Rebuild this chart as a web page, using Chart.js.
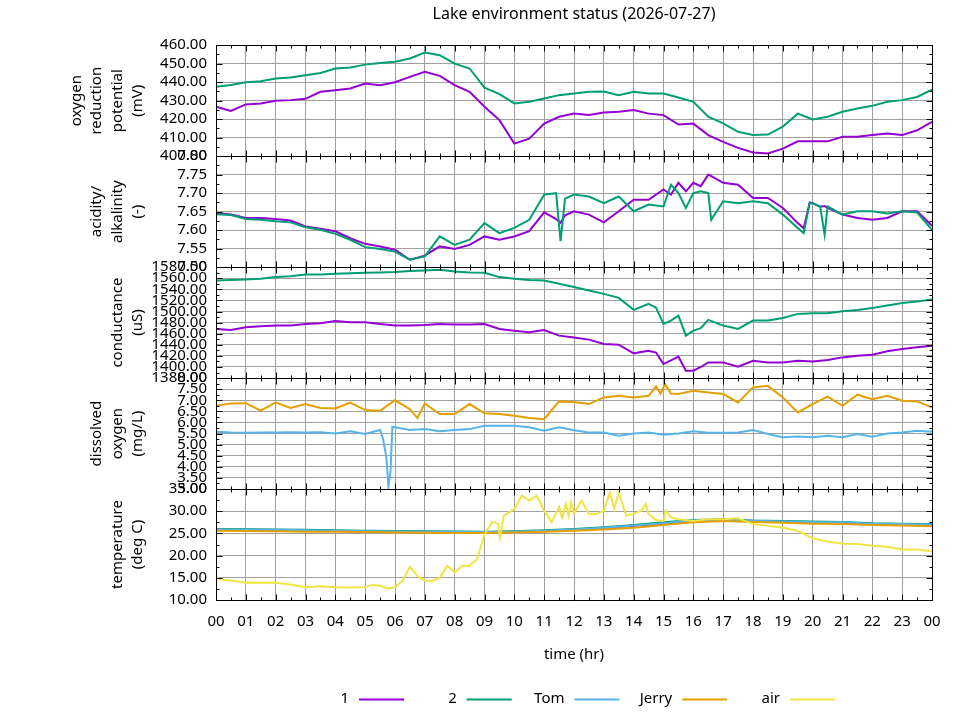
<!DOCTYPE html>
<html>
<head>
<meta charset="utf-8">
<title>Lake environment status</title>
<script src="https://cdn.jsdelivr.net/npm/chart.js@4.4.1/dist/chart.umd.min.js"></script>
<style>
    html, body { margin: 0; padding: 0; background: #ffffff; }
    #wrap { width: 960px; height: 720px; }
</style>
</head>
<body>
<div id="wrap"><canvas id="lake-chart" width="960" height="720"></canvas></div>
<script>
// Series names and colours (gnuplot default palette)
const seriesNames = ["1", "2", "Tom", "Jerry", "air"];
const seriesColors = ["#9400d3", "#009e73", "#56b4e9", "#e69f00", "#f0e442"];

// Panels, top to bottom
const panelIds = ["orp", "ph", "cond", "dox", "temp"];
const panelMin = [400, 7.5, 1380, 3, 10];
const panelMax = [460, 7.8, 1580, 8, 35];
const panelStep = [10, 0.05, 20, 0.5, 5];
const panelTitles = [
    ["oxygen", "reduction", "potential", "(mV)"],
    ["acidity/", "alkalinity", "(-)"],
    ["conductance", "(uS)"],
    ["dissolved", "oxygen", "(mg/L)"],
    ["temperature", "(deg C)"]
];

const hourLabels = ["00", "01", "02", "03", "04", "05", "06", "07", "08", "09", "10", "11",
    "12", "13", "14", "15", "16", "17", "18", "19", "20", "21", "22", "23", "00"];

const halfHours = [0, 0.5, 1, 1.5, 2, 2.5, 3, 3.5, 4, 4.5, 5, 5.5, 6, 6.5, 7, 7.5, 8, 8.5, 9, 9.5,
    10, 10.5, 11, 11.5, 12, 12.5, 13, 13.5, 14, 14.5, 15, 15.5, 16, 16.5, 17, 17.5, 18, 18.5, 19, 19.5,
    20, 20.5, 21, 21.5, 22, 22.5, 23, 23.5, 24];
const hours = [0, 1, 2, 3, 4, 5, 6, 7, 8, 9, 10, 11, 12, 13, 14, 15, 16, 17, 18, 19, 20, 21, 22, 23, 24];

// oxygen reduction potential (mV)
const orp1 = [426.7, 424.5, 428, 428.5, 430, 430.3, 431, 434.8, 435.7, 436.6,
    439.3, 438.4, 440, 442.9, 445.6, 443.4, 438.4, 434.8, 426.7, 419.5,
    406.8, 409.5, 417.6, 421.3, 423, 422.2, 423.6, 424, 425, 423,
    422.2, 417.1, 417.6, 411.4, 407.7, 404.5, 402, 401.4, 404.1, 408,
    408, 408, 410.5, 410.5, 411.4, 412.3, 411.4, 414, 418.6];
const orp2 = [437.5, 438.5, 440, 440.5, 442, 442.5, 443.8, 445, 447.4, 448,
    449.5, 450.4, 451, 452.8, 456, 454.6, 450, 447.4, 437, 433.5,
    428.5, 429.4, 431.2, 433, 433.9, 434.8, 435, 433, 434.8, 433.9,
    433.9, 431.7, 429.4, 421.3, 417.7, 413.2, 411.4, 411.7, 416, 423,
    419.8, 421.3, 424, 425.8, 427.2, 429.4, 430.3, 432, 436];

// acidity / alkalinity
const phTime = [0, 0.5, 1, 1.5, 2, 2.5, 3, 3.5, 4, 4.5,
    5, 5.5, 6, 6.5, 7, 7.5, 8, 8.5, 9, 9.5,
    10, 10.5, 11, 11.4, 11.55, 11.7, 12, 12.5, 13, 13.5,
    14, 14.5, 15, 15.25, 15.5, 15.75, 16, 16.25, 16.5, 16.6,
    17, 17.5, 18, 18.5, 19, 19.5, 19.7, 19.9, 20, 20.25,
    20.4, 20.5, 21, 21.5, 22, 22.5, 23, 23.5, 24];
const ph1 = [7.646, 7.642, 7.633, 7.633, 7.630, 7.626, 7.610, 7.604, 7.597, 7.578,
    7.563, 7.556, 7.547, 7.520, 7.531, 7.556, 7.549, 7.560, 7.583, 7.574,
    7.583, 7.597, 7.648, 7.630, 7.620, 7.640, 7.651, 7.642, 7.621, 7.651,
    7.682, 7.682, 7.710, 7.696, 7.728, 7.705, 7.728, 7.719, 7.750, 7.746,
    7.728, 7.723, 7.687, 7.687, 7.660, 7.619, 7.605, 7.675, 7.673, 7.663,
    7.665, 7.660, 7.642, 7.633, 7.628, 7.633, 7.651, 7.651, 7.612];
const ph2 = [7.643, 7.641, 7.630, 7.628, 7.624, 7.621, 7.608, 7.601, 7.590, 7.574,
    7.554, 7.549, 7.542, 7.520, 7.529, 7.583, 7.560, 7.574, 7.619, 7.592,
    7.606, 7.628, 7.696, 7.700, 7.570, 7.685, 7.696, 7.691, 7.673, 7.691,
    7.651, 7.669, 7.664, 7.723, 7.700, 7.660, 7.700, 7.705, 7.700, 7.628,
    7.678, 7.673, 7.678, 7.673, 7.642, 7.606, 7.592, 7.673, 7.673, 7.664,
    7.588, 7.664, 7.642, 7.651, 7.651, 7.645, 7.651, 7.648, 7.601];

// conductance (uS)
const condTime = [0, 0.5, 1, 1.5, 2, 2.5, 3, 3.5, 4, 4.5,
    5, 5.5, 6, 6.5, 7, 7.5, 8, 8.5, 9, 9.5,
    10, 10.5, 11, 11.5, 12, 12.5, 13, 13.5, 14, 14.5,
    14.75, 15, 15.25, 15.5, 15.75, 16, 16.25, 16.5, 17, 17.5,
    18, 18.5, 19, 19.5, 20, 20.5, 21, 21.5, 22, 22.5,
    23, 23.5, 24];
const cond1 = [1468.6, 1466.7, 1471.6, 1473.4, 1474.6, 1474.6, 1477.6, 1478.8, 1483, 1480.6,
    1480.6, 1477.6, 1474.6, 1474.6, 1475.8, 1477.6, 1476.4, 1476.4, 1477.6, 1468.6,
    1465.5, 1462.5, 1466.7, 1456.5, 1453, 1449.3, 1441.4, 1440.2, 1424.6, 1429.4,
    1426, 1405.3, 1412, 1418.6, 1393.3, 1393.3, 1400, 1408.3, 1408.3, 1400.5,
    1411.3, 1408.3, 1408.3, 1411.3, 1410.1, 1412.5, 1417.3, 1420.4, 1422.2, 1428.2,
    1432.4, 1435.4, 1438.4];
const cond2 = [1555.9, 1557, 1557.7, 1559, 1562, 1563.7, 1566.7, 1566.7, 1568, 1569,
    1569.8, 1570.4, 1571, 1572.8, 1574, 1575.2, 1572.2, 1570.4, 1569.8, 1562,
    1559, 1557, 1556, 1550, 1544, 1537.8, 1531.8, 1524.6, 1502.9, 1513.7,
    1507, 1477.6, 1483.6, 1492.7, 1456.5, 1465.5, 1470, 1484.8, 1474.6, 1468.6,
    1483.6, 1483.6, 1488.4, 1495.7, 1496.9, 1496.9, 1500.5, 1502.9, 1506.5, 1510.7,
    1515.5, 1518, 1521.6];

// dissolved oxygen (mg/L)
const tomTime = [0, 0.5, 1, 1.5, 2, 2.5, 3, 3.5, 4, 4.5,
    5, 5.5, 5.6, 5.71, 5.78, 5.85, 5.91, 6, 6.5, 7,
    7.5, 8, 8.5, 9, 9.5, 10, 10.5, 11, 11.5, 12,
    12.5, 13, 13.5, 14, 14.5, 15, 15.5, 16, 16.5, 17,
    17.5, 18, 18.5, 19, 19.5, 20, 20.5, 21, 21.5, 22,
    22.5, 23, 23.5, 24];
const doTom = [5.58, 5.55, 5.54, 5.55, 5.55, 5.56, 5.55, 5.56, 5.5, 5.6,
    5.48, 5.66, 5.25, 4.43, 3.1, 3.8, 5.8, 5.78, 5.66, 5.7,
    5.6, 5.66, 5.7, 5.85, 5.85, 5.85, 5.78, 5.63, 5.78, 5.65,
    5.55, 5.55, 5.4, 5.5, 5.55, 5.45, 5.5, 5.6, 5.54, 5.54,
    5.55, 5.66, 5.48, 5.33, 5.37, 5.33, 5.4, 5.33, 5.48, 5.36,
    5.5, 5.55, 5.63, 5.58];
const jerryTime = [0, 0.5, 1, 1.5, 2, 2.5, 3, 3.5, 4, 4.5,
    5, 5.5, 6, 6.5, 6.75, 7, 7.5, 8, 8.5, 9,
    9.5, 10, 10.5, 11, 11.5, 12, 12.5, 13, 13.5, 14,
    14.5, 14.75, 14.9, 15.05, 15.25, 15.5, 16, 16.5, 17, 17.5,
    18, 18.5, 19, 19.5, 20, 20.5, 21, 21.5, 22, 22.5,
    23, 23.5, 24];
const doJerry = [6.75, 6.86, 6.87, 6.53, 6.9, 6.65, 6.83, 6.65, 6.63, 6.9,
    6.56, 6.53, 7.0, 6.6, 6.2, 6.86, 6.38, 6.38, 6.83, 6.41,
    6.38, 6.3, 6.2, 6.15, 6.95, 6.92, 6.83, 7.13, 7.2, 7.13,
    7.2, 7.62, 7.3, 7.73, 7.3, 7.28, 7.43, 7.35, 7.28, 6.9,
    7.58, 7.65, 7.13, 6.45, 6.83, 7.16, 6.75, 7.25, 7.05, 7.2,
    6.98, 6.95, 6.68];

// temperature (deg C)
const temp1 = [25.85, 25.8, 25.75, 25.65, 25.55, 25.45, 25.4, 25.35, 25.3, 25.25, 25.35, 25.55, 25.85,
    26.25, 26.75, 27.2, 27.85, 28.05, 27.8, 27.65, 27.55, 27.45, 27.15, 27.05, 26.95];
const temp2 = [26.0, 25.95, 25.9, 25.8, 25.7, 25.6, 25.55, 25.5, 25.45, 25.4, 25.5, 25.7, 26.0,
    26.4, 26.9, 27.5, 28.0, 28.2, 27.9, 27.8, 27.7, 27.6, 27.3, 27.2, 27.1];
const tempTom = [25.9, 25.85, 25.8, 25.7, 25.6, 25.5, 25.45, 25.4, 25.35, 25.3, 25.4, 25.6, 25.9,
    26.3, 26.8, 27.3, 27.9, 28.1, 27.85, 27.7, 27.6, 27.5, 27.2, 27.1, 27.0];
const tempJerry = [25.6, 25.55, 25.5, 25.4, 25.35, 25.3, 25.2, 25.15, 25.1, 25.1, 25.2, 25.4, 25.6,
    25.9, 26.3, 26.9, 27.5, 27.8, 27.6, 27.4, 27.2, 27.1, 26.9, 26.8, 26.6];
const airTime = [0, 0.25, 0.5, 1, 1.5, 2, 2.5, 3, 3.5, 4,
    4.5, 5, 5.25, 5.5, 5.75, 6, 6.25, 6.5, 6.75, 7,
    7.25, 7.5, 7.75, 8, 8.25, 8.5, 8.75, 9, 9.25, 9.45,
    9.52, 9.65, 10, 10.25, 10.5, 10.75, 11, 11.25, 11.5, 11.6,
    11.73, 11.82, 11.9, 12, 12.25, 12.5, 12.75, 13, 13.2, 13.35,
    13.5, 13.75, 14, 14.25, 14.4, 14.5, 14.75, 15, 15.07, 15.25,
    15.5, 16, 16.5, 17, 17.5, 18, 18.5, 19, 19.5, 20,
    20.5, 21, 21.5, 22, 22.5, 23, 23.5, 24];
const airTemp = [15.05, 14.5, 14.4, 13.9, 13.9, 13.9, 13.5, 12.9, 13.1, 12.9,
    12.8, 12.9, 13.4, 13.2, 12.6, 12.9, 14.3, 17.5, 15.4, 14.4,
    14.3, 15.05, 17.7, 16.2, 17.7, 17.7, 19.2, 24.8, 27.6, 27.2,
    24.1, 29, 30.5, 33.5, 32.4, 33.5, 30.1, 27.5, 31, 28.5,
    31.6, 29, 32, 29.5, 32.4, 29.4, 29.4, 30.1, 34.2, 30.5,
    34.2, 29, 29.4, 30.1, 31.6, 29.4, 28, 27.8, 30.1, 28.6,
    28.2, 27.8, 28.2, 28.2, 28.4, 27.1, 26.7, 26.3, 25.6, 23.9,
    23.2, 22.7, 22.6, 22.2, 22, 21.4, 21.4, 20.9];

const FONT = '"Noto Sans", sans-serif';
const FONT_SIZE = 15;
const TITLE_LINE = 20.4;

Chart.defaults.font.family = FONT;
Chart.defaults.font.size = FONT_SIZE;
Chart.defaults.color = "#000000";

const toPoints = (xs, ys) => xs.map((x, i) => ({ x: x, y: ys[i] }));

// later datasets are drawn on top, like gnuplot does
let drawCount = 0;
function series(seriesIndex, axis, xs, ys) {
    drawCount += 1;
    return {
        label: seriesNames[seriesIndex],
        yAxisID: axis,
        data: toPoints(xs, ys),
        borderColor: seriesColors[seriesIndex],
        borderWidth: 2,
        pointRadius: 0,
        tension: 0,
        fill: false,
        order: 100 - drawCount
    };
}

const datasets = [
    series(0, "orp", halfHours, orp1),
    series(1, "orp", halfHours, orp2),
    series(0, "ph", phTime, ph1),
    series(1, "ph", phTime, ph2),
    series(0, "cond", condTime, cond1),
    series(1, "cond", condTime, cond2),
    series(2, "dox", tomTime, doTom),
    series(3, "dox", jerryTime, doJerry),
    series(0, "temp", hours, temp1),
    series(1, "temp", hours, temp2),
    series(2, "temp", hours, tempTom),
    series(3, "temp", hours, tempJerry),
    series(4, "temp", airTime, airTemp)
];

// One stacked y axis per panel
const scales = {
    x: {
        type: "linear",
        position: "bottom",
        min: 0,
        max: 24,
        afterFit: scale => { scale.height = 120; },
        ticks: {
            stepSize: 1,
            autoSkip: false,
            maxRotation: 0,
            padding: 13,
            callback: value => hourLabels[value]
        },
        grid: { color: "#a0a0a0", lineWidth: 1, drawTicks: false },
        border: { display: false },
        title: { display: true, text: "time (hr)", padding: { top: 0, bottom: 56 } }
    }
};
panelIds.forEach((id, i) => {
    const lines = panelTitles[i].length;
    scales[id] = {
        type: "linear",
        position: "left",
        stack: "lake",
        stackWeight: 1,
        weight: panelIds.length - i,
        min: panelMin[i],
        max: panelMax[i],
        afterFit: scale => { scale.width = 216; },
        ticks: {
            stepSize: panelStep[i],
            autoSkip: false,
            padding: 9,
            callback: value => value.toFixed(2)
        },
        grid: { color: "#a0a0a0", lineWidth: 1, drawTicks: false },
        border: { display: false },
        title: {
            display: true,
            text: panelTitles[i],
            font: { size: FONT_SIZE, lineHeight: TITLE_LINE / FONT_SIZE },
            padding: { top: 138 - (lines - 1) * TITLE_LINE - TITLE_LINE / 2, bottom: 0 }
        }
    };
});

// gnuplot-like boxes with inward major/minor ticks on every panel
const panelFrame = {
    id: "panelFrame",
    afterDatasetsDraw(chart) {
        const { ctx, chartArea } = chart;
        const xScale = chart.scales.x;
        const left = Math.round(chartArea.left) + 0.5;
        const right = Math.round(chartArea.right) + 0.5;
        ctx.save();
        ctx.strokeStyle = "#000000";
        ctx.lineWidth = 1;
        ctx.beginPath();
        panelIds.forEach((id, p) => {
            const s = chart.scales[id];
            const top = Math.round(s.top) + 0.5;
            const bottom = Math.round(s.bottom) + 0.5;
            ctx.rect(left, top, right - left, bottom - top);
            const minor = panelStep[p] / 2;
            const n = Math.round((panelMax[p] - panelMin[p]) / minor);
            for (let i = 0; i <= n; i++) {
                const y = Math.round(s.getPixelForValue(panelMin[p] + i * minor)) + 0.5;
                const len = i % 2 === 0 ? 6 : 3;
                ctx.moveTo(left, y); ctx.lineTo(left + len, y);
                ctx.moveTo(right, y); ctx.lineTo(right - len, y);
            }
            for (let i = 0; i <= 48; i++) {
                const x = Math.round(xScale.getPixelForValue(i * 0.5)) + 0.5;
                const len = i % 2 === 0 ? 6 : 3;
                ctx.moveTo(x, top); ctx.lineTo(x, top + len);
                ctx.moveTo(x, bottom); ctx.lineTo(x, bottom - len);
            }
        });
        ctx.stroke();
        ctx.restore();
    }
};

// Legend with label first, then a line sample
const lineLegend = {
    id: "lineLegend",
    afterDraw(chart) {
        const ctx = chart.ctx;
        const y = 699;
        ctx.save();
        ctx.font = FONT_SIZE + "px " + FONT;
        ctx.textAlign = "right";
        ctx.textBaseline = "middle";
        seriesNames.forEach((name, i) => {
            const start = 359 + 107.75 * i;
            ctx.fillStyle = "#000000";
            ctx.fillText(name, start - 10, y);
            ctx.strokeStyle = seriesColors[i];
            ctx.lineWidth = 2;
            ctx.beginPath();
            ctx.moveTo(start, y + 0.5);
            ctx.lineTo(start + 45, y + 0.5);
            ctx.stroke();
        });
        ctx.restore();
    }
};

const lakeChart = new Chart(document.getElementById("lake-chart").getContext("2d"), {
    type: "line",
    data: { datasets },
    options: {
        responsive: false,
        animation: false,
        layout: { padding: { left: 0, right: 28, top: 0, bottom: 0 } },
        scales: scales,
        plugins: {
            legend: { display: false },
            tooltip: { enabled: false },
            title: {
                display: true,
                fullSize: false,
                text: "Lake environment status (2026-07-27)",
                font: { size: 16, weight: "normal" },
                color: "#000000",
                padding: { top: 5, bottom: 21 }
            }
        }
    },
    plugins: [panelFrame, lineLegend]
});
</script>
</body>
</html>
